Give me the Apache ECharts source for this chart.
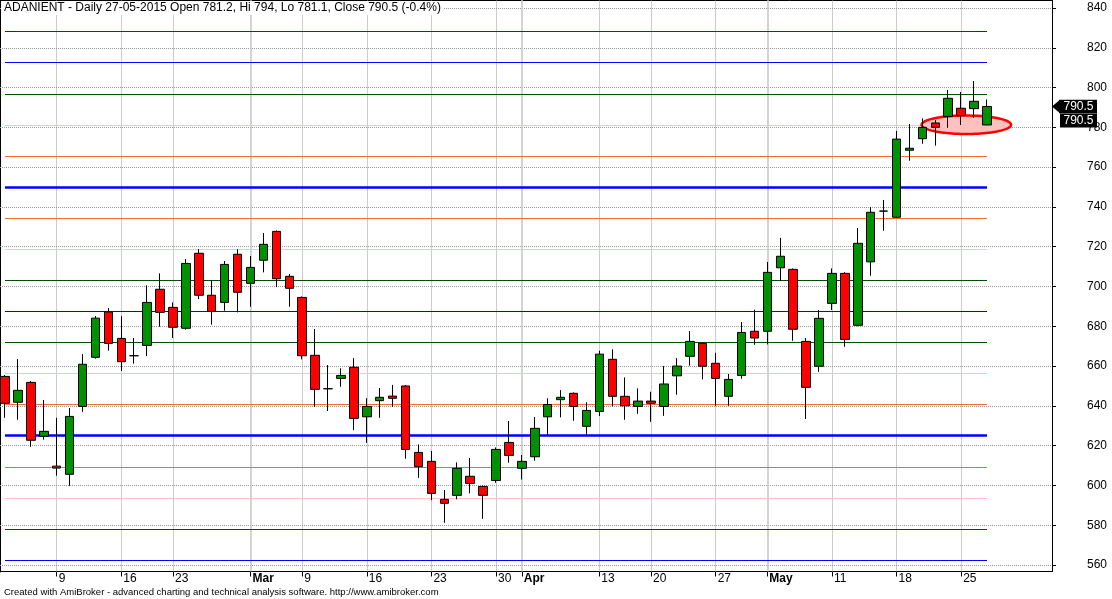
<!DOCTYPE html>
<html><head><meta charset="utf-8">
<script src="https://cdn.jsdelivr.net/npm/echarts@6/dist/echarts.min.js"></script>
<style>html,body{margin:0;padding:0;background:#fff}#c{width:1112px;height:599px}</style>
</head><body><div id="c"></div>
<script>
// ---- data ----
const dates = ['2015-02-03','2015-02-04','2015-02-05','2015-02-06','2015-02-09','2015-02-10','2015-02-11','2015-02-12','2015-02-13','2015-02-16','2015-02-18','2015-02-19','2015-02-20','2015-02-23','2015-02-24','2015-02-25','2015-02-26','2015-02-27','2015-02-28',
'2015-03-02','2015-03-03','2015-03-04','2015-03-05','2015-03-09','2015-03-10','2015-03-11','2015-03-12','2015-03-13','2015-03-16','2015-03-17','2015-03-18','2015-03-19','2015-03-20','2015-03-23','2015-03-24','2015-03-25','2015-03-26','2015-03-27','2015-03-30','2015-03-31',
'2015-04-01','2015-04-06','2015-04-07','2015-04-08','2015-04-09','2015-04-10','2015-04-13','2015-04-15','2015-04-16','2015-04-17','2015-04-20','2015-04-21','2015-04-22','2015-04-23','2015-04-24','2015-04-27','2015-04-28','2015-04-29','2015-04-30',
'2015-05-04','2015-05-05','2015-05-06','2015-05-07','2015-05-08','2015-05-11','2015-05-12','2015-05-13','2015-05-14','2015-05-15','2015-05-18','2015-05-19','2015-05-20','2015-05-21','2015-05-22','2015-05-25','2015-05-26','2015-05-27'];
const opens  = [654.8,641.8,651.8,624.7,609.7,605.6,639.7,664.4,687.2,673.9,665.2,670.4,698.6,689.5,679.0,716.7,695.6,692.0,716.2,
701.6,713.2,727.7,705.1,694.5,665.4,648.6,653.8,659.4,634.5,642.6,644.9,650.0,616.6,612.1,593.0,595.0,604.6,599.5,602.5,621.6,
608.6,614.4,634.5,643.1,646.3,629.7,637.2,663.4,644.8,639.7,642.4,639.7,655.1,664.9,671.4,661.4,644.8,655.3,677.5,
677.5,709.4,708.6,672.4,659.9,691.5,706.6,680.5,712.4,737.9,734.8,768.5,774.3,782.2,785.5,789.6,789.4,781.2];
const closes = [641.3,647.8,622.7,627.2,608.7,634.7,660.9,684.1,671.4,662.2,665.2,692.0,687.0,679.5,711.6,695.6,687.5,711.1,697.1,
709.6,721.2,703.9,699.1,665.2,648.3,648.6,655.3,633.7,639.7,644.3,643.8,618.1,609.4,596.0,591.0,608.6,601.0,595.0,618.1,615.1,
612.1,628.7,640.7,644.3,639.7,637.7,666.0,644.8,640.0,642.4,641.3,651.0,660.0,672.4,659.9,653.8,653.3,676.9,674.1,
707.1,715.2,678.5,649.3,684.0,706.6,673.4,721.7,737.3,737.9,774.1,769.5,780.0,780.0,794.6,785.9,793.1,790.5];
const lows   = [634.0,633.0,619.4,623.0,604.9,599.8,637.0,663.7,667.7,657.5,661.2,665.0,679.8,674.1,678.3,693.7,680.8,687.8,687.0,
689.8,707.1,699.7,689.8,663.4,639.5,637.4,649.6,627.8,621.4,634.0,639.5,613.4,603.8,592.6,581.2,593.0,596.0,583.2,601.3,611.4,
603.0,612.4,625.2,634.2,632.5,625.0,634.9,639.7,633.0,636.0,632.0,635.0,645.6,660.2,653.3,640.0,640.0,653.6,670.7,
670.9,702.7,672.7,633.4,657.1,688.2,669.7,680.0,705.4,728.0,734.5,763.2,771.8,770.8,779.8,781.2,784.8,781.1];
const highs  = [655.5,663.5,652.5,642.9,634.0,638.9,666.0,685.2,689.2,685.1,674.1,700.6,706.6,692.0,713.8,718.8,703.1,712.8,718.7,
715.3,726.9,728.2,706.3,695.0,678.6,660.5,658.9,664.0,643.8,649.0,650.5,650.5,620.6,617.3,597.7,611.6,613.8,600.0,619.1,632.4,
615.3,634.4,643.8,647.9,646.8,641.8,667.7,668.4,654.3,648.8,647.1,660.0,664.0,677.6,672.0,666.7,656.0,682.1,688.3,
712.3,724.4,709.1,674.1,688.2,709.1,707.2,729.4,740.0,743.5,778.2,781.7,784.5,783.7,798.8,797.8,803.3,794.0];
const tickDates  = ['2015-02-09','2015-02-16','2015-02-23','2015-03-02','2015-03-09','2015-03-16','2015-03-23','2015-03-30','2015-04-01','2015-04-13','2015-04-20','2015-04-27','2015-05-04','2015-05-11','2015-05-18','2015-05-25'];
const tickLabels = ['9','16','23','Mar','9','16','23','30','Apr','13','20','27','May','11','18','25'];
const monthLabels = ['Mar','Apr','May'];
const priceTicks = [560,580,600,620,640,660,680,700,720,740,760,780,800,820,840];
const levelValues = [562.5,578.125,593.75,609.375,625,640.625,656.25,671.875,687.5,703.125,718.75,734.375,750,765.625,781.25,796.875,812.5,828.125];
const levelKinds  = ['blue','dkgreen','pink','orange','blueBold','orange','pink','dkgreen','blue','dkgreen','pink','orange','blueBold','orange','pink','dkgreen','blue','dkgreen'];
const highlightEllipse = [74.4, 781.3, 3.46, 4.63]; // centre (day index, price), radius (days, price)
const titleText = 'ADANIENT - Daily 27-05-2015 Open 781.2, Hi 794, Lo 781.1, Close 790.5 (-0.4%)';
const footerText = 'Created with AmiBroker - advanced charting and technical analysis software. http://www.amibroker.com';
const lastValueTexts = ['790.5', '790.5'];

// ---- styles ----
const FONT = '"Liberation Sans", Arial, sans-serif';
const levelStyles = {
  blue:     {color: '#0000ff', width: 1},
  blueBold: {color: '#0000ff', width: 2.5},
  dkgreen:  {color: '#004f00', width: 1},
  pink:     {color: '#ffc0cb', width: 1},
  orange:   {color: '#f26d2d', width: 1}
};
const GRID_DOT = {color: '#9a9a9a', type: 'dotted', width: 1};
const X_MIN = -0.387, X_MAX = 81.03, Y_MIN = 556.73, Y_MAX = 844.02;

const tickIdx = tickDates.map(d => dates.indexOf(d));
const lastIdx = dates.length - 1;

const markData = [];
priceTicks.forEach(v => markData.push({yAxis: v, lineStyle: GRID_DOT}));
tickIdx.forEach((ix, k) => {
  const isMonth = monthLabels.indexOf(tickLabels[k]) >= 0;
  markData.push({xAxis: ix, lineStyle: isMonth ? {color: '#c4c4c4', type: 'solid', width: 1.5} : GRID_DOT});
});
levelValues.forEach((v, k) => {
  const st = levelStyles[levelKinds[k]];
  markData.push([{coord: [0, v], lineStyle: {color: st.color, width: st.width, type: 'solid'}}, {coord: [lastIdx, v]}]);
});

const chart = echarts.init(document.getElementById('c'), null, {renderer: 'canvas'});
const option = {
  animation: false,
  backgroundColor: '#fff',
  title: [
    {text: titleText, left: 2, top: 1, padding: [1, 2, 1, 2], backgroundColor: '#fff',
     textStyle: {fontFamily: FONT, fontSize: 12, fontWeight: 'normal', color: '#000'}},
    {text: footerText, left: 4, top: 587, padding: 0,
     textStyle: {fontFamily: FONT, fontSize: 9.5, fontWeight: 'normal', color: '#000'}}
  ],
  grid: {left: 0, top: 0, width: 1052, height: 571.5, containLabel: false},
  xAxis: [
    {type: 'value', min: X_MIN, max: X_MAX, position: 'bottom',
     axisLine: {show: true, onZero: false, lineStyle: {color: '#000', width: 1}},
     axisTick: {show: true, customValues: tickIdx, length: 5, lineStyle: {color: '#000'}},
     axisLabel: {customValues: tickIdx, align: 'left', margin: 1, padding: [0, 0, 0, 2],
       fontFamily: FONT, fontSize: 12, color: '#000',
       formatter: v => {
         const k = tickIdx.indexOf(Math.round(v));
         if (k < 0) return '';
         const t = tickLabels[k];
         return monthLabels.indexOf(t) >= 0 ? '{m|' + t + '}' : '{d|' + t + '}';
       },
       rich: {m: {fontFamily: FONT, fontSize: 12, fontWeight: 'bold', color: '#000'},
              d: {fontFamily: FONT, fontSize: 12, color: '#000'}}},
     splitLine: {show: false}},
    {type: 'value', min: X_MIN, max: X_MAX, position: 'top',
     axisLine: {show: true, onZero: false, lineStyle: {color: '#000', width: 1}},
     axisTick: {show: false}, axisLabel: {show: false}, splitLine: {show: false}}
  ],
  yAxis: [
    {type: 'value', min: Y_MIN, max: Y_MAX, position: 'right',
     axisLine: {show: true, onZero: false, lineStyle: {color: '#000', width: 1}},
     axisTick: {show: true, customValues: priceTicks, length: 4, lineStyle: {color: '#000'}},
     axisLabel: {customValues: priceTicks, align: 'right', margin: 55, fontFamily: FONT, fontSize: 12, color: '#000'},
     splitLine: {show: false}},
    {type: 'value', min: Y_MIN, max: Y_MAX, position: 'left',
     axisLine: {show: true, onZero: false, lineStyle: {color: '#000', width: 2}},
     axisTick: {show: false}, axisLabel: {show: false}, splitLine: {show: false}}
  ],
  series: [
    {type: 'line', name: 'levels', data: [], xAxisIndex: 0, yAxisIndex: 0, silent: true,
     markLine: {silent: true, z: 1, symbol: ['none', 'none'], label: {show: false}, animation: false, data: markData}},
    {type: 'custom', name: 'highlight', z: 2, silent: true, clip: false, xAxisIndex: 0, yAxisIndex: 0,
     data: [highlightEllipse],
     renderItem: (params, api) => {
       const c = api.coord([api.value(0), api.value(1)]);
       const e = api.coord([api.value(0) + api.value(2), api.value(1) + api.value(3)]);
       const rx = Math.abs(e[0] - c[0]), ry = Math.abs(e[1] - c[1]);
       const pts = [];
       for (let a = 0; a < 96; a++) {
         const t = a / 96 * Math.PI * 2;
         pts.push([c[0] + rx * Math.cos(t), c[1] + ry * Math.sin(t)]);
       }
       return {type: 'polygon', shape: {points: pts}, style: {fill: '#ffc0c0', stroke: '#ff0000', lineWidth: 2.5}};
     }},
    {type: 'candlestick', name: 'ADANIENT', z: 3, silent: true, barWidth: 9, xAxisIndex: 0, yAxisIndex: 0,
     data: dates.map((d, i) => [i, opens[i], closes[i], lows[i], highs[i]]),
     itemStyle: {color: '#009100', color0: '#ff0000', borderColor: '#000', borderColor0: '#000', borderWidth: 1}}
  ]
};
chart.setOption(option);

// last value tags on the price axis
const p = chart.convertToPixel({xAxisIndex: 0, yAxisIndex: 0}, [lastIdx, closes[lastIdx]]);
const axisX = chart.convertToPixel({xAxisIndex: 0, yAxisIndex: 0}, [X_MAX, closes[lastIdx]])[0];
const y = p[1];
chart.setOption({
  graphic: [
    {type: 'polygon', z: 100, shape: {points: [[axisX, y], [axisX + 8, y - 6.7], [axisX + 8, y + 6.7]]}, style: {fill: '#000'}},
    {type: 'rect', z: 100, shape: {x: axisX + 7, y: y - 6.7, width: 38, height: 13.4}, style: {fill: '#000'}},
    {type: 'text', z: 101, x: axisX + 26.5, y: y, style: {text: lastValueTexts[0], fill: '#fff', font: '12px ' + FONT, align: 'center', verticalAlign: 'middle'}},
    {type: 'rect', z: 100, shape: {x: axisX + 8, y: y + 7, width: 37, height: 14}, style: {fill: '#000'}},
    {type: 'text', z: 101, x: axisX + 26.5, y: y + 14, style: {text: lastValueTexts[1], fill: '#fff', font: '12px ' + FONT, align: 'center', verticalAlign: 'middle'}}
  ]
});
</script>
</body></html>
